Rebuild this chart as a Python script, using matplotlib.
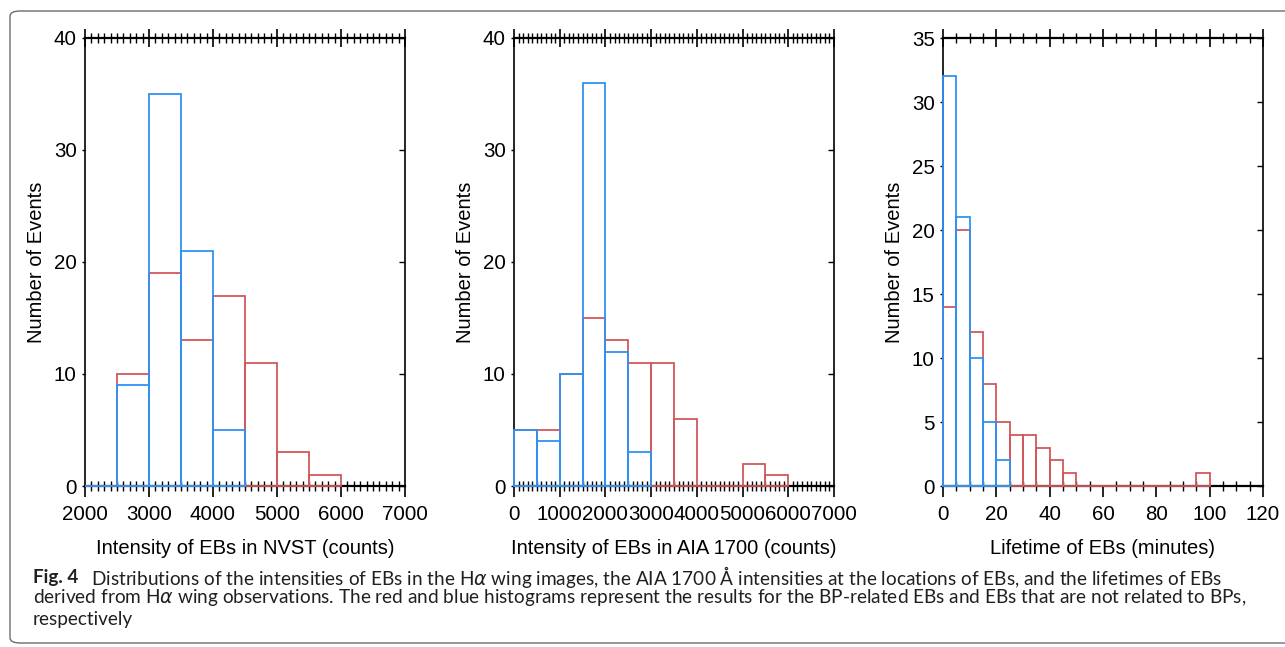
import matplotlib
matplotlib.use("Agg")
import matplotlib.pyplot as plt
import numpy as np
from matplotlib.patches import FancyBboxPatch
from matplotlib.ticker import MultipleLocator

# histogram counts (red = BP-related EBs, blue = not related)
nvst_edges = np.arange(2000, 6001, 500)
nvst_red = [0, 10, 19, 13, 17, 11, 3, 1]
nvst_blue_edges = np.arange(2000, 4501, 500)
nvst_blue = [0, 9, 35, 21, 5]

aia_edges = np.arange(0, 6001, 500)
aia_red = [5, 5, 10, 15, 13, 11, 11, 6, 0, 0, 2, 1]
aia_blue_edges = np.arange(0, 3001, 500)
aia_blue = [5, 4, 10, 36, 12, 3]

life_edges = np.arange(0, 101, 5)
life_red = [14, 20, 12, 8, 5, 4, 4, 3, 2, 1, 0, 0, 0, 0, 0, 0, 0, 0, 0, 1]
life_blue_edges = np.arange(0, 26, 5)
life_blue = [32, 21, 10, 5, 2]

xlabels = ["Intensity of EBs in NVST (counts)",
           "Intensity of EBs in AIA 1700 (counts)",
           "Lifetime of EBs (minutes)"]

RED = "#d2575c"
BLUE = "#2f92f5"
TICKFONT = "Liberation Sans"

fig = plt.figure(figsize=(12.85, 6.47), dpi=100)

W, H = 1285.0, 647.0
lefts = [85, 514, 943]
panels = [
    (nvst_edges, nvst_red, nvst_blue_edges, nvst_blue, (2000, 7000), 1000, 100, 40, 10),
    (aia_edges, aia_red, aia_blue_edges, aia_blue, (0, 7000), 1000, 100, 40, 10),
    (life_edges, life_red, life_blue_edges, life_blue, (0, 120), 20, 5, 35, 5),
]

for i, (re, rv, be, bv, xl, xmaj, xmin, ytop, ymaj) in enumerate(panels):
    ax = fig.add_axes([lefts[i] / W, 1 - 486 / H, 320 / W, 448 / H])
    ax.bar(re[:-1], rv, width=np.diff(re), align="edge", fill=False,
           edgecolor=RED, linewidth=1.3, zorder=3, clip_on=False)
    ax.bar(be[:-1], bv, width=np.diff(be), align="edge", fill=False,
           edgecolor=BLUE, linewidth=1.3, zorder=4, clip_on=False)
    ax.set_xlim(*xl)
    ax.set_ylim(0, ytop)
    for s in ax.spines.values():
        s.set_linewidth(1.2)
    ax.spines["top"].set_linewidth(1.6)
    ax.spines["bottom"].set_linewidth(1.6)

    ax.xaxis.set_major_locator(MultipleLocator(xmaj))
    ax.xaxis.set_minor_locator(MultipleLocator(xmin))
    ax.yaxis.set_major_locator(MultipleLocator(ymaj))
    ax.tick_params(axis="x", which="major", direction="out", length=8,
                   width=1.2, pad=6, labelsize=14.8)
    ax.tick_params(axis="x", which="minor", direction="inout", length=6.5, width=1.0)
    ax.tick_params(axis="y", which="major", direction="out", length=2,
                   width=1.0, pad=4, labelsize=14.8)
    for lab in ax.get_xticklabels() + ax.get_yticklabels():
        lab.set_fontfamily(TICKFONT)
    ylabs = ax.get_yticklabels()
    ylabs[0].set_va("bottom")
    ylabs[-1].set_va("top")

    # top axis: crossing ticks
    axt = ax.twiny()
    axt.set_xlim(*xl)
    axt.xaxis.set_major_locator(MultipleLocator(xmaj))
    axt.xaxis.set_minor_locator(MultipleLocator(xmin))
    axt.tick_params(axis="x", which="major", direction="inout", length=13,
                    width=1.2, labeltop=False)
    axt.tick_params(axis="x", which="minor", direction="inout", length=6.5, width=1.0)
    for s in axt.spines.values():
        s.set_visible(False)

    # right axis: inward ticks
    axr = ax.twinx()
    axr.set_ylim(0, ytop)
    axr.yaxis.set_major_locator(MultipleLocator(ymaj))
    axr.tick_params(axis="y", direction="in", length=4, width=1.0, labelright=False)
    for s in axr.spines.values():
        s.set_visible(False)

    ax.set_xlabel(xlabels[i], fontsize=14.5, fontfamily=TICKFONT)
    ax.xaxis.set_label_coords(0.5, -(548 - 486) / 448)
    ax.xaxis.label.set_va("center")
    ax.set_ylabel("Number of Events", fontsize=14.5, fontfamily=TICKFONT)
    ax.yaxis.set_label_coords(-0.152, 0.5)
    ax.yaxis.label.set_va("center")

# figure frame
frame = FancyBboxPatch((10 / W, 4 / H), 1.2, 1 - 15 / H,
                       boxstyle="round,pad=0,rounding_size=0.008",
                       transform=fig.transFigure, fill=False,
                       edgecolor="#6d6d6d", linewidth=1.0, clip_on=False)
fig.patches.append(frame)

CAPFONT = ["Lato", "DejaVu Sans"]
cap = [
    r"Distributions of the intensities of EBs in the H$\it{\alpha}$ wing images, the AIA 1700 Å intensities at the locations of EBs, and the lifetimes of EBs",
    r"derived from H$\it{\alpha}$ wing observations. The red and blue histograms represent the results for the BP-related EBs and EBs that are not related to BPs,",
    "respectively",
]
fig.text(33 / W, 1 - 577 / H, "Fig. 4", fontsize=13.6, fontweight="bold",
         family=CAPFONT, va="center", color="#231f20")
fig.text(91 / W, 1 - 577 / H, cap[0], fontsize=13.65, family=CAPFONT,
         va="center", color="#231f20")
fig.text(33 / W, 1 - 598 / H, cap[1], fontsize=13.65, family=CAPFONT,
         va="center", color="#231f20")
fig.text(33 / W, 1 - 619 / H, cap[2], fontsize=13.65, family=CAPFONT,
         va="center", color="#231f20")

fig.savefig("out.png", dpi=100)
